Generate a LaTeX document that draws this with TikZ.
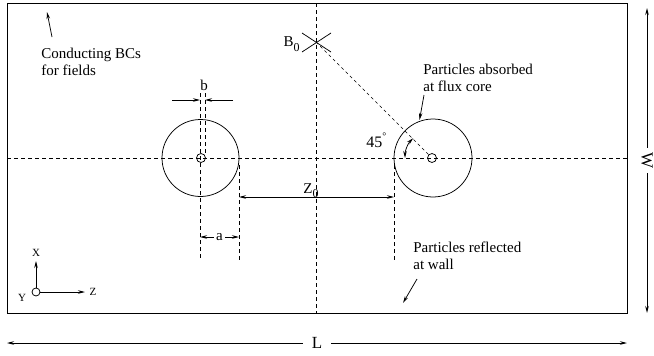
\documentclass[tikz,border=0pt]{standalone}
\usepackage{fontspec}
\setmainfont{Liberation Serif}
\usetikzlibrary{arrows.meta}
\begin{document}
\begin{tikzpicture}[x=1pt,y=-1pt,
  line width=0.75pt,
  dsh/.style={dash pattern=on 4pt off 3pt},
  fine/.style={dash pattern=on 3pt off 3pt, line width=0.6pt},
  arr/.style={-{Stealth[length=7pt,width=3.5pt]}},
  darr/.style={{Stealth[length=7pt,width=3.5pt]}-{Stealth[length=7pt,width=3.5pt]}},
  lbl/.style={font=\fontsize{15}{17}\selectfont, inner sep=0pt, align=left},
  sym/.style={font=\fontsize{15}{17}\selectfont, inner sep=0pt},
  ax/.style={font=\fontsize{11}{13}\selectfont, inner sep=0pt},
  big/.style={font=\fontsize{17}{19}\selectfont, fill=white, inner ysep=0pt},
  ring/.style={circle, draw, inner sep=0pt}
]
\useasboundingbox (0,0) rectangle (654,356);
% domain
\node[draw, line width=1pt, minimum width=620pt, minimum height=310pt, inner sep=0pt, anchor=north west] (box) at (7,3) {};
% centre lines
\coordinate (cT) at (316,3); \coordinate (cB) at (316,313);
\coordinate (hL) at (7,158); \coordinate (hR) at (627,158);
\draw[dsh] (cT) -- (cB);
\draw[dsh] (hL) -- (hR);
% flux tubes
\node[ring, minimum size=77pt] (lc) at (200.5,158) {};
\node[ring, minimum size=78pt] (rc) at (433,158) {};
\node[ring, minimum size=9pt] (lcore) at (201,158) {};
\node[ring, minimum size=9pt] (rcore) at (432,158) {};
% guide lines
\coordinate (g1t) at (200,93);  \coordinate (g1b) at (200,260);
\coordinate (g2t) at (205,93);  \coordinate (g2b) at (205,154);
\coordinate (g3t) at (239,165); \coordinate (g3b) at (239,260);
\coordinate (g4t) at (394,165); \coordinate (g4b) at (394,260);
\draw[dsh] (g1t) -- (g1b);
\draw[dsh] (g2t) -- (g2b);
\draw[dsh] (g3t) -- (g3b);
\draw[dsh] (g4t) -- (g4b);
% b
\coordinate (bl0) at (172,100); \coordinate (bl1) at (200,100);
\coordinate (br0) at (233,100); \coordinate (br1) at (205,100);
\draw[arr] (bl0) -- (bl1);
\draw[arr] (br0) -- (br1);
\node[sym, anchor=base] (blab) at (204,90) {b};
% a
\coordinate (a0) at (200,237); \coordinate (a1) at (239,237);
\draw[darr] (a0) -- (a1) node[midway, sym, fill=white, inner xsep=2pt, inner ysep=1pt] (alab) {a};
% Z0
\coordinate (z0) at (239,197); \coordinate (z1) at (394,197);
\draw[darr] (z0) -- (z1);
\node[sym, anchor=base] (zlab) at (311,193) {Z\raisebox{-0.6ex}{\fontsize{12}{12}\selectfont 0}};
% B0
\coordinate (b0) at (316,42);
\coordinate (x1) at (302,33); \coordinate (x2) at (331,52);
\coordinate (x3) at (302,52); \coordinate (x4) at (331,33);
\draw (x1) -- (x2);
\draw (x3) -- (x4);
\node[sym, anchor=base east] (blab0) at (300,46) {B\raisebox{-0.75ex}{\fontsize{12}{12}\selectfont 0}};
\draw[fine] (b0) -- (rcore);
% angle
\draw[darr] (405,158) arc[start angle=180, end angle=135, radius=28pt];
\node[sym, font=\fontsize{16}{18}\selectfont, anchor=base west] (ang) at (366,147) {45\raisebox{1ex}{\fontsize{10}{10}\selectfont °}};
% notes
\node[lbl, anchor=north west] (cond) at (41,47.5) {Conducting BCs\\for fields};
\coordinate (c0) at (52,37); \coordinate (c1) at (47,12);
\draw[arr] (c0) -- (c1);
\node[lbl, anchor=north west] (absb) at (423,63.5) {Particles absorbed\\at flux core};
\coordinate (p0) at (424,95); \coordinate (p1) at (419.5,120);
\draw[arr] (p0) -- (p1);
\node[lbl, anchor=north west] (refl) at (413,241.5) {Particles reflected\\at wall};
\coordinate (r0) at (417,279); \coordinate (r1) at (403,303);
\draw[arr] (r0) -- (r1);
% axes
\node[ring, minimum size=8pt] (orig) at (36,292) {};
\coordinate (xt) at (36,261); \coordinate (zt) at (85,292);
\draw[arr] (orig.north) -- (xt);
\draw[arr] (orig.east) -- (zt);
\node[ax] (xl) at (36,253) {X};
\node[ax] (zl) at (93,292) {Z};
\node[ax] (yl) at (22,298) {Y};
% L and W
\coordinate (L0) at (7,343); \coordinate (L1) at (627,343);
\draw[darr] (L0) -- (L1) node[midway, big, inner xsep=9pt] (Llab) {L};
\coordinate (W0) at (647,8); \coordinate (W1) at (647,313);
\draw[darr] (W0) -- (W1) node[midway, big, rotate=-90, inner xsep=4pt] (Wlab) {W};
\end{tikzpicture}
\end{document}
